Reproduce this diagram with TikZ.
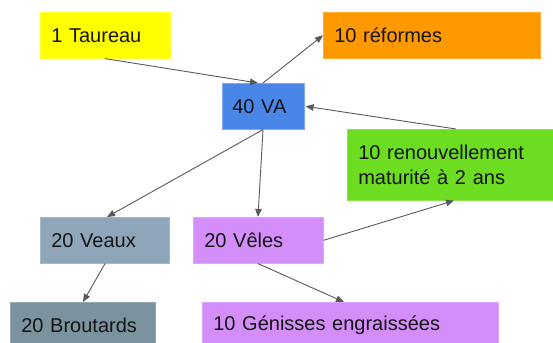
\documentclass[tikz,border=0pt]{standalone}
\usepackage{fontspec}
\setmainfont{Liberation Sans}
\usetikzlibrary{arrows.meta}
\definecolor{cyellow}{HTML}{FFFF00}
\definecolor{corange}{HTML}{FF9900}
\definecolor{cblue}{HTML}{4A86E8}
\definecolor{cgreen}{HTML}{6CDD20}
\definecolor{cveaux}{HTML}{8EA5BA}
\definecolor{cbrout}{HTML}{7B939E}
\definecolor{cpurple}{HTML}{D48EFA}
\definecolor{cline}{HTML}{595959}
\tikzset{
  box/.style={anchor=north west, inner xsep=11pt, inner ysep=0pt, align=left,
    font=\fontsize{20}{24.5}\selectfont, text=black!92, line width=0.6pt},
  link/.style={draw=cline, line width=0.9pt, -{Triangle[length=8pt,width=6.5pt]}},
}
\begin{document}
\begin{tikzpicture}[x=1pt,y=-1pt]
\useasboundingbox (0,0) rectangle (553,342);
\begin{scope}
\clip (0,0) rectangle (553,342);
\node[box, fill=cyellow, draw=cyellow!80!white, minimum width=130pt, minimum height=46pt, text width=108pt] (taureau) at (40,12) {1 Taureau};
\node[box, fill=corange, draw=corange!80!white, minimum width=217pt, minimum height=46pt, text width=195pt] (reformes) at (323,12) {10 réformes};
\node[box, fill=cblue, draw=cblue!70!white, minimum width=82pt, minimum height=46pt, text width=62pt, inner xsep=10pt] (va) at (222,83) {40 VA};
\node[box, fill=cgreen, draw=cgreen!80!white, minimum width=212pt, minimum height=71pt, text width=190pt] (renouv) at (347,129) {10 renouvellement\\maturité à 2 ans};
\node[box, fill=cveaux, draw=cveaux!80!white, minimum width=129pt, minimum height=46pt, text width=107pt] (veaux) at (40,217) {20 Veaux};
\node[box, fill=cpurple, draw=cpurple!80!white, minimum width=130pt, minimum height=46pt, text width=108pt] (veles) at (193,217) {20 Vêles};
\node[box, fill=cbrout, draw=cbrout!80!white, minimum width=145pt, minimum height=46pt, text width=123pt] (broutards) at (10,302) {20 Broutards};
\node[box, fill=cpurple, draw=cpurple!80!white, minimum width=296pt, minimum height=46pt, text width=274pt] (genisses) at (202,302) {10 Génisses engraissées};
\end{scope}
\draw[link] ([xshift=65pt]taureau.south west) -- ([xshift=36pt]va.north west);
\draw[link] ([xshift=41pt]va.north west) -- (reformes.west);
\draw[link] ([xshift=109pt]renouv.north west) -- ([xshift=1pt]va.east);
\draw[link] ([xshift=41pt]va.south west) -- ([xshift=67pt]veaux.north west);
\draw[link] ([xshift=41pt]va.south west) -- ([xshift=65pt]veles.north west);
\draw[link] (veles.east) -- ([xshift=107pt]renouv.south west);
\draw[link] ([xshift=65pt]veaux.south west) -- ([xshift=73pt]broutards.north west);
\draw[link] ([xshift=65pt]veles.south west) -- ([xshift=142pt]genisses.north west);
\end{tikzpicture}
\end{document}
